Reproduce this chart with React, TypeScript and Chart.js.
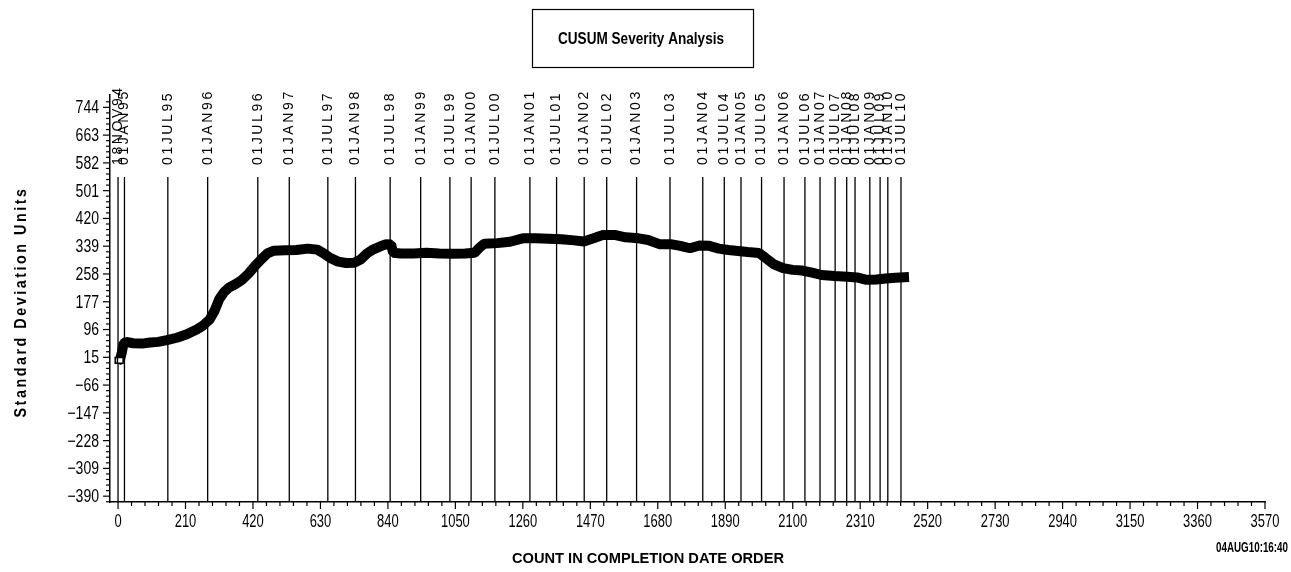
import React, { useEffect, useRef } from "react";
import { Chart, registerables } from "chart.js";

Chart.register(...registerables);

// ---- data ----
const counts = [
  0, 6, 12, 17, 25, 47, 75, 100, 125, 152, 183, 214, 245, 265, 285, 300, 315, 330, 345, 365,
  385, 405, 425, 445, 465, 485, 520, 555, 590, 620, 640, 660, 685, 710, 735, 755, 775, 795, 815, 835,
  850, 856, 880, 920, 960, 1000, 1040, 1080, 1110, 1125, 1140, 1180, 1220, 1260, 1300, 1340, 1380, 1420, 1450, 1480,
  1510, 1545, 1580, 1620, 1650, 1685, 1720, 1750, 1780, 1810, 1840, 1870, 1900, 1930, 1960, 1995, 2015, 2040, 2070, 2100,
  2130, 2160, 2190, 2230, 2270, 2300, 2330, 2360, 2390, 2420, 2462,
];
const cusum = [
  6, 8, 30, 55, 60, 56, 55, 58, 60, 65, 72, 82, 96, 108, 125, 150, 185, 205, 218, 228,
  240, 258, 280, 300, 318, 326, 327, 328, 332, 329, 318, 305, 294, 290, 291, 300, 318, 330, 338, 345,
  344, 320, 318, 318, 320, 318, 317, 318, 320, 335, 346, 348, 352, 362, 362, 361, 359, 356, 353, 362,
  372, 372, 365, 362, 357, 345, 345, 340, 333, 341, 340, 332, 328, 325, 322, 319, 305, 287, 275, 270,
  268, 262, 255, 252, 250, 248, 241, 242, 245, 247, 249,
];
const startCounts = [0, 7];
const startValues = [6, 6];

const eventLabels = [
  "18NOV94", "01JAN95", "01JUL95", "01JAN96", "01JUL96", "01JAN97", "01JUL97", "01JAN98",
  "01JUL98", "01JAN99", "01JUL99", "01JAN00", "01JUL00", "01JAN01", "01JUL01", "01JAN02",
  "01JUL02", "01JAN03", "01JUL03", "01JAN04", "01JUL04", "01JAN05", "01JUL05", "01JAN06",
  "01JUL06", "01JAN07", "01JUL07", "01JAN08", "01JUL08", "01JAN09", "01JUL09", "01JAN10", "01JUL10",
];
const eventCounts = [
  0, 20, 155, 279, 435, 533, 653, 739,
  847, 942, 1033, 1099, 1173, 1282, 1365, 1451,
  1521, 1614, 1718, 1820, 1887, 1939, 2003, 2073,
  2138, 2185, 2232, 2268, 2294, 2340, 2372, 2396, 2437,
];

const xTickValues = [0, 210, 420, 630, 840, 1050, 1260, 1470, 1680, 1890, 2100, 2310, 2520, 2730, 2940, 3150, 3360, 3570];
const yTickValues = [744, 663, 582, 501, 420, 339, 258, 177, 96, 15, -66, -147, -228, -309, -390];

const titleText = "CUSUM Severity Analysis";
const yTitleText = "Standard Deviation Units";
const xTitleText = "COUNT IN COMPLETION DATE ORDER";
const stampText = "04AUG10:16:40";

const FONT = '"Liberation Sans", Arial, sans-serif';

function fitText(
  ctx: CanvasRenderingContext2D,
  text: string,
  x: number,
  y: number,
  font: string,
  targetWidth: number,
  align: CanvasTextAlign,
  spacing = 0,
  rotate = 0
) {
  ctx.save();
  ctx.font = font;
  (ctx as any).letterSpacing = spacing + "px";
  const w = ctx.measureText(text).width;
  const sx = targetWidth / w;
  ctx.translate(x, y);
  if (rotate) ctx.rotate(rotate);
  ctx.scale(sx, 1);
  ctx.textAlign = align;
  ctx.textBaseline = "middle";
  ctx.fillStyle = "#000";
  ctx.fillText(text, 0, 0);
  ctx.restore();
}

function scaledText(
  ctx: CanvasRenderingContext2D,
  text: string,
  x: number,
  y: number,
  font: string,
  sx: number,
  align: CanvasTextAlign
) {
  ctx.save();
  ctx.font = font;
  ctx.translate(x, y);
  ctx.scale(sx, 1);
  ctx.textAlign = align;
  ctx.textBaseline = "middle";
  ctx.fillStyle = "#000";
  ctx.fillText(text, 0, 0);
  ctx.restore();
}

const decorPlugin = {
  id: "decor",
  beforeDatasetsDraw(chart: any) {
    const { ctx, chartArea, scales } = chart;
    const x = scales.x;
    ctx.save();
    ctx.strokeStyle = "#000";
    ctx.fillStyle = "#000";
    ctx.lineWidth = 1.3;
    eventCounts.forEach((c, i) => {
      const px = x.getPixelForValue(c);
      ctx.beginPath();
      ctx.moveTo(px, 177);
      ctx.lineTo(px, chartArea.bottom);
      ctx.stroke();
      ctx.save();
      ctx.translate(px, 165);
      ctx.rotate(-Math.PI / 2);
      ctx.font = "14px " + FONT;
      (ctx as any).letterSpacing = "2.6px";
      ctx.textAlign = "left";
      ctx.textBaseline = "middle";
      ctx.fillText(eventLabels[i], 0, 0);
      ctx.restore();
    });
    ctx.restore();
  },
  afterDraw(chart: any) {
    const { ctx, chartArea, scales } = chart;
    const x = scales.x;
    const y = scales.y;
    ctx.save();
    ctx.strokeStyle = "#000";
    ctx.lineWidth = 1.2;

    // x ticks
    const xb = chartArea.bottom;
    for (let v = 0; v <= 3570; v += 42) {
      const major = xTickValues.includes(v);
      const px = x.getPixelForValue(v);
      ctx.beginPath();
      ctx.moveTo(px, xb);
      ctx.lineTo(px, xb + (major ? 7 : 4));
      ctx.stroke();
    }
    xTickValues.forEach((v) => {
      scaledText(ctx, String(v), x.getPixelForValue(v), xb + 20, "18px " + FONT, 0.72, "center");
    });

    // y ticks
    const yl = chartArea.left;
    for (let k = -1; k <= 71; k++) {
      const v = -390 + k * 16.2;
      if (v > 780) break;
      const major = k % 5 === 0 && k >= 0 && k <= 70;
      const py = y.getPixelForValue(v);
      ctx.beginPath();
      ctx.moveTo(yl, py);
      ctx.lineTo(yl - (major ? 7 : 4), py);
      ctx.stroke();
    }
    yTickValues.forEach((v) => {
      const s = v < 0 ? "\u2212" + String(-v) : String(v);
      scaledText(ctx, s, 99, y.getPixelForValue(v) + 1, "18px " + FONT, 0.78, "right");
    });

    // title box
    ctx.lineWidth = 1.2;
    ctx.strokeRect(532.5, 9.5, 221, 58);
    fitText(ctx, titleText, 641, 39, "bold 17px " + FONT, 166, "center");

    // axis titles
    fitText(ctx, yTitleText, 21, 302, "bold 17px " + FONT, 231, "center", 3, -Math.PI / 2);
    fitText(ctx, xTitleText, 648, 559, "bold 15px " + FONT, 272, "center");
    fitText(ctx, stampText, 1288, 548, "bold 15px " + FONT, 72, "right");
    ctx.restore();
  },
};

export default function App() {
  const ref = useRef<HTMLCanvasElement | null>(null);
  useEffect(() => {
    if (!ref.current) return;
    const mainData = counts.map((c, i) => ({ x: c, y: cusum[i] }));
    const startData = startCounts.map((c, i) => ({ x: c, y: startValues[i] }));
    const chart = new Chart(ref.current, {
      type: "scatter",
      data: {
        datasets: [
          {
            label: "start",
            data: startData,
            showLine: false,
            pointStyle: "rect",
            pointRadius: 4,
            backgroundColor: "#fff",
            borderColor: "#000",
            borderWidth: 1.5,
          },
          {
            label: "CUSUM",
            data: mainData,
            showLine: true,
            borderColor: "#000",
            backgroundColor: "#000",
            borderWidth: 10,
            borderJoinStyle: "bevel",
            pointRadius: 0,
            tension: 0,
          },
        ],
      },
      options: {
        responsive: false,
        animation: false,
        devicePixelRatio: 1,
        layout: { padding: { top: 95, left: 10, right: 26, bottom: 0 } },
        plugins: { legend: { display: false }, tooltip: { enabled: false }, title: { display: false } },
        scales: {
          x: {
            type: "linear",
            min: -25,
            max: 3570,
            grid: { display: false },
            border: { display: true, color: "#000", width: 1.5 },
            ticks: { display: false },
            afterBuildTicks: (s: any) => {
              s.ticks = xTickValues.map((v) => ({ value: v }));
            },
            afterFit: (s: any) => {
              s.height = 70;
            },
          },
          y: {
            type: "linear",
            min: -407,
            max: 780,
            grid: { display: false },
            border: { display: true, color: "#000", width: 1.5 },
            ticks: { display: false },
            afterBuildTicks: (s: any) => {
              s.ticks = yTickValues.map((v) => ({ value: v }));
            },
            afterFit: (s: any) => {
              s.width = 100;
            },
          },
        },
      },
      plugins: [decorPlugin],
    } as any);
    return () => chart.destroy();
  }, []);
  return (
    <div style={{ position: "fixed", left: 0, top: 0, width: 1291, height: 572, background: "#fff" }}>
      <canvas ref={ref} width={1291} height={572} style={{ display: "block" }} />
    </div>
  );
}
